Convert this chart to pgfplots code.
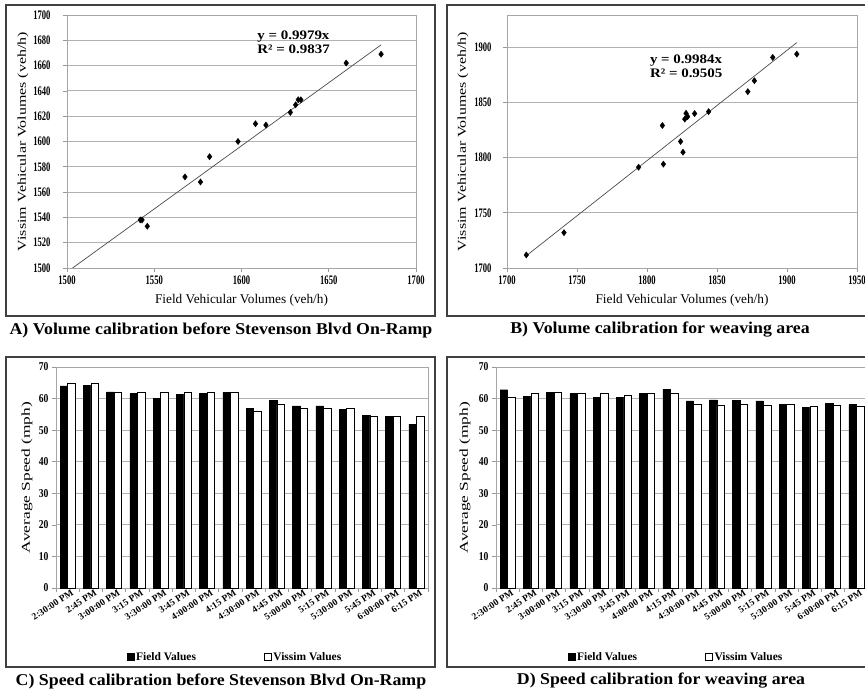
\documentclass[border=0pt]{standalone}
\usepackage{fontspec}
\setmainfont{Liberation Serif}
\newfontfamily\tickf{Liberation Serif}[FakeStretch=0.66]
\newfontfamily\btickf{Liberation Serif}[FakeStretch=0.8]
\newfontfamily\ylabf{Liberation Serif}[FakeStretch=1.33]
\newfontfamily\ylabbf{Liberation Serif}[FakeStretch=1.45]
\newfontfamily\capf{Liberation Serif}[FakeStretch=1.08]
\newfontfamily\eqf{Liberation Serif}[FakeStretch=1.15]
\usepackage{pgfplots}
\pgfplotsset{compat=1.18}
\pgfplotsset{
  base/.style={
    scale only axis,
    axis line style={black!35, line width=0.8pt},
    tick style={black!40, line width=0.6pt},
    tick align=outside,
    major tick length=4pt,
    xtick pos=bottom, ytick pos=left,
    ymajorgrids,
    major grid style={black!30, line width=0.8pt},
    /pgf/number format/assume math mode=true,
    /pgf/number format/1000 sep={},
  },
  scat/.style={base, width=349pt, height=253pt,
    ticklabel style={font=\tickf\bfseries\fontsize{13}{14}\selectfont},
    xlabel style={font=\fontsize{13.3}{14}\selectfont},
    ylabel style={font=\ylabf\fontsize{12}{13}\selectfont},
  },
  bars/.style={base, width=372pt, height=221pt,
    ybar=0pt, bar width=7.5pt,
    xmin=-0.5, xmax=15.5, ymin=0, ymax=70,
    ytick={0,10,...,70},
    xtick={-0.5,0.5,...,15.5}, xticklabels={},
    extra x ticks={0,1,...,15},
    extra x tick labels={2:30:00 PM,2:45 PM,3:00:00 PM,3:15 PM,3:30:00 PM,3:45 PM,4:00:00 PM,4:15 PM,4:30:00 PM,4:45 PM,5:00:00 PM,5:15 PM,5:30:00 PM,5:45 PM,6:00:00 PM,6:15 PM},
    extra x tick style={major tick length=0pt, grid=none,
      xticklabel style={rotate=33, anchor=east, font=\bfseries\fontsize{9.5}{10}\selectfont, inner sep=1pt, xshift=3pt, yshift=-6pt}},
    yticklabel style={font=\btickf\bfseries\fontsize{12}{13}\selectfont},
    ylabel={Average Speed (mph)},
    ylabel style={font=\ylabbf\fontsize{12}{13}\selectfont},
    legend style={draw=none, fill=none, font=\bfseries\fontsize{11.5}{12}\selectfont,
      legend columns=2, /tikz/every even column/.append style={column sep=66pt},
      legend cell align=left, inner sep=0pt},
  },
  sqleg/.style={legend image code/.code={\draw[##1, line width=0.4pt] (0pt,-3.5pt) rectangle (7pt,3.5pt);}},
}
\begin{document}
\begin{tikzpicture}
\useasboundingbox (0pt,0pt) rectangle (865pt,694pt);
\clip (0pt,0pt) rectangle (865pt,694pt);
\fill[white] (0pt,0pt) rectangle (865pt,694pt);
% panel frames
\draw[black!75, line width=1.3pt] (6pt,378pt) rectangle (435pt,689pt);
\draw[black!75, line width=1.3pt] (447pt,378pt) rectangle (885pt,689pt);
\draw[black!75, line width=1.3pt] (6pt,27pt) rectangle (435pt,337pt);
\draw[black!75, line width=1.3pt] (447pt,27pt) rectangle (885pt,337pt);
% captions
\node[font=\capf\bfseries\fontsize{16.5}{17}\selectfont] at (221pt,364pt) {A) Volume calibration before Stevenson Blvd On-Ramp};
\node[font=\capf\bfseries\fontsize{16.5}{17}\selectfont] at (660pt,364pt) {B) Volume calibration for weaving area};
\node[font=\capf\bfseries\fontsize{16.5}{17}\selectfont] at (221pt,13pt) {C) Speed calibration before Stevenson Blvd On-Ramp};
\node[font=\capf\bfseries\fontsize{16.5}{17}\selectfont] at (661pt,13pt) {D) Speed calibration for weaving area};

% Panel A
\begin{axis}[scat, at={(67pt,426pt)}, anchor=south west,
  xmin=1500, xmax=1700, ymin=1500, ymax=1700,
  xtick={1500,1550,...,1700}, ytick={1500,1520,...,1700},
  yticklabel style={xshift=-9pt},
  xlabel={Field Vehicular Volumes (veh/h)}, ylabel={Vissim Vehicular Volumes (veh/h)},
  xlabel style={at={(axis description cs:0.5,-0.126)}, anchor=center},
  ylabel style={at={(axis description cs:-0.126,0.5)}, anchor=center},
]
\addplot[black!70, line width=0.7pt] coordinates {(1503.2,1500) (1680,1676.4)};
\addplot[only marks, mark=diamond*, mark size=3.1pt, black] coordinates {
(1542,1538) (1543,1538) (1546,1533) (1567.6,1572) (1576.5,1568) (1581.7,1588)
(1598,1600) (1608,1614) (1614,1613) (1628,1623) (1631,1629) (1632.5,1633)
(1634,1633) (1660,1662) (1680,1669)};
\node[anchor=north west, align=left, font=\eqf\bfseries\fontsize{13}{14}\selectfont, inner sep=0pt] at (axis cs:1609,1688) {y = 0.9979x\\R² = 0.9837};
\end{axis}

% Panel B
\begin{axis}[scat, at={(507pt,426pt)}, anchor=south west, width=350pt,
  xmin=1700, xmax=1950, ymin=1700, ymax=1929,
  xtick={1700,1750,...,1950}, ytick={1700,1750,...,1900},
  yticklabel style={xshift=-8pt},
  xlabel={Field Vehicular Volumes (veh/h)}, ylabel={Vissim Vehicular Volumes (veh/h)},
  xlabel style={at={(axis description cs:0.5,-0.126)}, anchor=center},
  ylabel style={at={(axis description cs:-0.126,0.5)}, anchor=center},
]
\addplot[black!70, line width=0.7pt] coordinates {(1714,1711.3) (1907,1904)};
\addplot[only marks, mark=diamond*, mark size=3.1pt, black] coordinates {
(1713.8,1711.8) (1740.7,1732) (1794,1791.2) (1811,1829) (1811.7,1794)
(1824,1814.5) (1825.7,1804.8) (1827,1834.8) (1827.9,1840) (1829,1837)
(1834,1839.8) (1844,1841.5) (1872,1859.6) (1876.7,1869.5) (1889.8,1890.6) (1907,1893.6)};
\node[anchor=north west, align=left, font=\eqf\bfseries\fontsize{13}{14}\selectfont, inner sep=0pt] at (axis cs:1802,1893) {y = 0.9984x\\R² = 0.9505};
\end{axis}

% Panel C
\begin{axis}[bars, at={(56pt,106pt)}, anchor=south west,
  ylabel style={at={(axis description cs:-0.078,0.5)}, anchor=center},
  legend style={at={(0.481,-0.312)}, anchor=center},
]
\addplot[fill=black, draw=black, sqleg] coordinates {
(0,64.0) (1,64.2) (2,62.1) (3,61.6) (4,60.0) (5,61.3) (6,61.7) (7,61.9)
(8,56.8) (9,59.4) (10,57.7) (11,57.7) (12,56.6) (13,54.7) (14,54.4) (15,51.9)};
\addplot[fill=white, draw=black, line width=0.5pt, sqleg] coordinates {
(0,64.7) (1,64.9) (2,62.1) (3,62.0) (4,61.9) (5,62.1) (6,61.9) (7,62.0)
(8,55.9) (9,58.1) (10,56.8) (11,56.8) (12,56.8) (13,54.5) (14,54.5) (15,54.3)};
\legend{Field Values, Vissim Values}
\end{axis}

% Panel D
\begin{axis}[bars, at={(496pt,106pt)}, anchor=south west,
  ylabel style={at={(axis description cs:-0.083,0.5)}, anchor=center},
  legend style={at={(0.484,-0.312)}, anchor=center},
]
\addplot[fill=black, draw=black, sqleg] coordinates {
(0,62.8) (1,60.8) (2,61.9) (3,61.6) (4,60.3) (5,60.3) (6,61.6) (7,62.9)
(8,59.3) (9,59.6) (10,59.5) (11,59.3) (12,58.1) (13,57.3) (14,58.5) (15,58.1)};
\addplot[fill=white, draw=black, line width=0.5pt, sqleg] coordinates {
(0,60.5) (1,61.6) (2,61.9) (3,61.7) (4,61.7) (5,61.2) (6,61.6) (7,61.6)
(8,58.2) (9,58.0) (10,58.1) (11,58.0) (12,58.1) (13,57.7) (14,57.8) (15,57.7)};
\legend{Field Values, Vissim Values}
\end{axis}
\end{tikzpicture}
\end{document}
